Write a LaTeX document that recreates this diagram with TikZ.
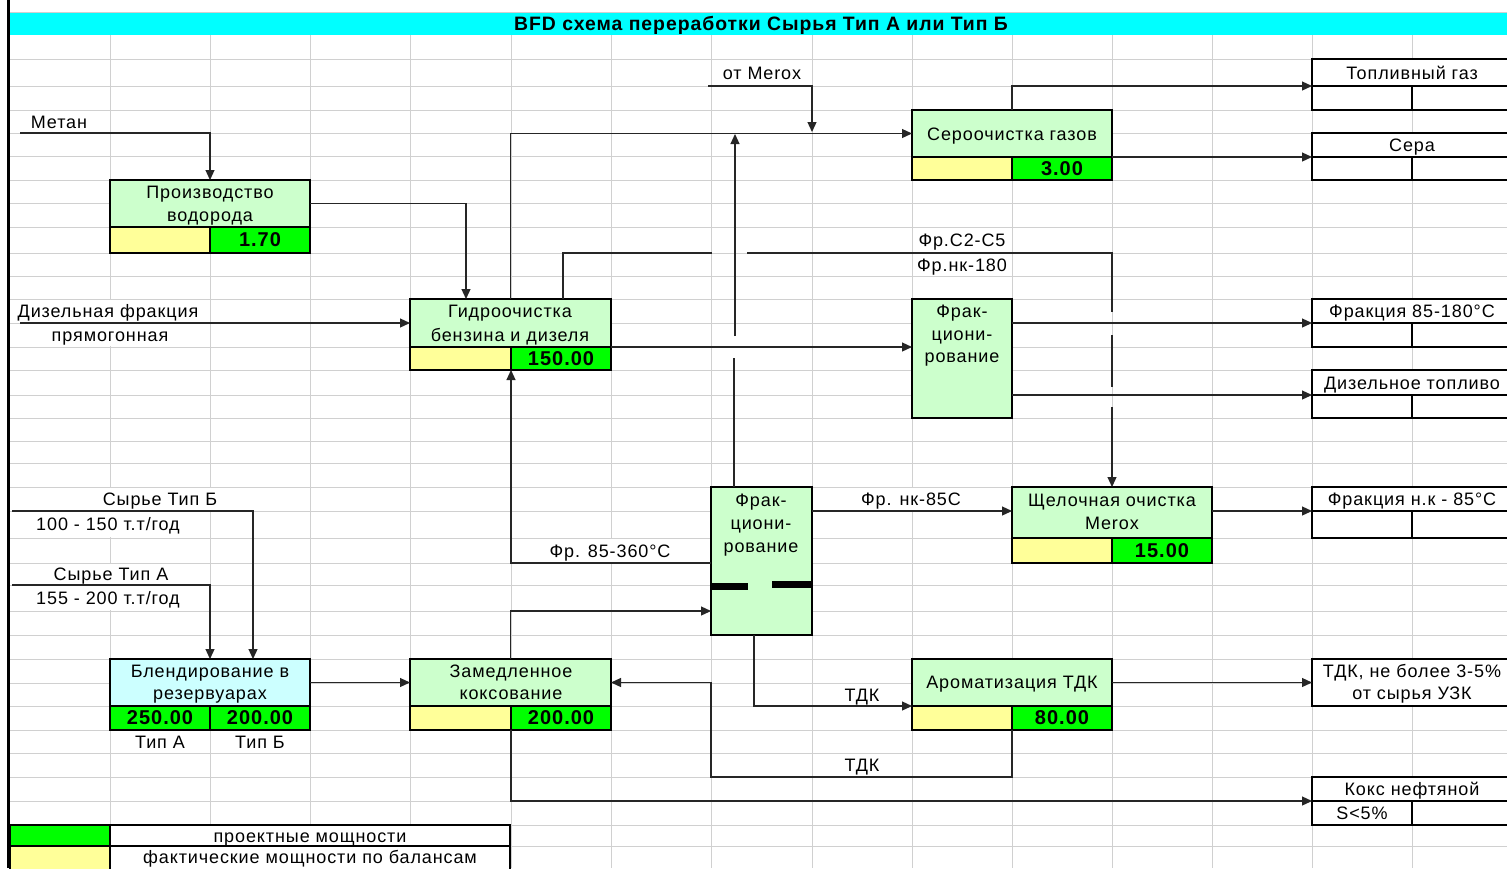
\documentclass[tikz,border=0pt]{standalone}
\usepackage{fontspec}
\setmainfont{Liberation Sans}[LetterSpace=5]
\usetikzlibrary{arrows.meta,calc}
\definecolor{lgreen}{HTML}{CCFFCC}
\definecolor{vgreen}{HTML}{00FF00}
\definecolor{lyel}{HTML}{FFFF99}
\definecolor{lcyan}{HTML}{CCFFFF}
\definecolor{ttl}{HTML}{00FFFF}
\definecolor{gridc}{HTML}{D0D0D0}
\newcommand\lblf{\fontsize{18}{22.5}\selectfont}
\newcommand\valf{\fontsize{20}{22.5}\selectfont\bfseries}
\newcommand\ttlf{\fontsize{19.4}{22.5}\selectfont\bfseries}
\begin{document}
\begin{tikzpicture}[x=1pt,y=-1pt,
  sz/.style 2 args={minimum width=#1pt, minimum height=#2pt},
  cell/.style={draw=black, line width=2.6pt, anchor=north west, inner sep=0pt, outer sep=0pt, align=center, font=\lblf},
  unit/.style={cell, fill=lgreen},
  ylw/.style={cell, fill=lyel},
  grn/.style={cell, fill=vgreen, font=\valf},
  outb/.style={cell, fill=white},
  leg/.style={draw=black, line width=1.2pt, anchor=north west, inner sep=0pt, outer sep=0pt},
  txt/.style={inner sep=0pt, anchor=base, font=\lblf},
  arr/.style={line width=1.2pt, draw=black!85, -{Triangle[length=10pt,width=9pt]}},
  ln/.style={line width=1.2pt, draw=black!85},
]
\useasboundingbox (0,0) rectangle (1507,868);
\fill[white] (0,0) rectangle (1507,868);
% grid
\foreach \x in {110,210,310,410,511,611,711,812,912,1012,1112,1212,1312,1412}
  \draw[gridc, line width=1pt] (\x,35) -- (\x,868);
\foreach \y in {59,86,110,133,156,180,203,227,253,276,299,323,347,370,395,418,441,463,487,511,538,563,585,611,635,659,683,706,730,753,777,801,825,846}
  \draw[gridc, line width=1pt] (10,\y) -- (1507,\y);
% text overflow hides grid segments
\fill[white] (108.5,299.6) rectangle (111.5,322.4);
\fill[white] (108.5,323.6) rectangle (111.5,346.4);
\fill[white] (108.5,487.6) rectangle (111.5,510.4);
\fill[white] (108.5,511.6) rectangle (111.5,537.4);
\fill[white] (208.5,487.6) rectangle (211.5,510.4);
\fill[white] (108.5,563.6) rectangle (111.5,584.4);
\fill[white] (108.5,585.6) rectangle (111.5,610.4);
\fill[white] (609.5,538.6) rectangle (612.5,562.4);
\fill[white] (910.5,487.6) rectangle (913.5,510.4);
% title bar
\fill[ttl] (10,12) rectangle (1507,35);
\draw[gridc, line width=1pt] (10,12) -- (1507,12);
\node[txt, font=\ttlf] (title) at (761,30.5) {BFD схема переработки Сырья Тип А или Тип Б};
% left border
\draw[line width=3pt] (8,0) -- (8,868);

% process units
\node[unit, sz={200}{47}] (h2) at (110,180) {};
\node[ylw, sz={100}{26}] (h2y) at (110,227) {};
\node[grn, sz={100}{26}] (h2v) at (210,227) {1.70};

\node[unit, sz={201}{48}] (hyd) at (410,299) {};
\node[ylw, sz={101}{23}] (hydy) at (410,347) {};
\node[grn, sz={100}{23}] (hydv) at (511,347) {150.00};

\node[unit, sz={200}{47}] (sul) at (912,110) {};
\node[ylw, sz={100}{23}] (suly) at (912,157) {};
\node[grn, sz={100}{23}] (sulv) at (1012,157) {3.00};

\node[unit, sz={100}{119}] (fr1) at (912,299) {};
\node[unit, sz={101}{148}] (fr2) at (711,487) {};
\fill (711,583) rectangle (748,590);
\fill (772,581) rectangle (812,588);

\node[unit, sz={200}{51}] (mer) at (1012,487) {};
\node[ylw, sz={100}{25}] (mery) at (1012,538) {};
\node[grn, sz={100}{25}] (merv) at (1112,538) {15.00};

\node[cell, fill=lcyan, sz={200}{47}] (bl) at (110,659) {};
\node[grn, sz={100}{24}] (blA) at (110,706) {250.00};
\node[grn, sz={100}{24}] (blB) at (210,706) {200.00};

\node[unit, sz={201}{47}] (cok) at (410,659) {};
\node[ylw, sz={101}{24}] (coky) at (410,706) {};
\node[grn, sz={100}{24}] (cokv) at (511,706) {200.00};

\node[unit, sz={200}{47}] (aro) at (912,659) {};
\node[ylw, sz={100}{24}] (aroy) at (912,706) {};
\node[grn, sz={100}{24}] (arov) at (1012,706) {80.00};

% output boxes
\node[outb, sz={200}{27}] (og1) at (1312,59) {};
\node[outb, sz={100}{24}] (og1a) at (1312,86) {};
\node[outb, sz={100}{24}] (og1b) at (1412,86) {};
\node[outb, sz={200}{24}] (og2) at (1312,133) {};
\node[outb, sz={100}{23}] (og2a) at (1312,157) {};
\node[outb, sz={100}{23}] (og2b) at (1412,157) {};
\node[outb, sz={200}{24}] (og3) at (1312,299) {};
\node[outb, sz={100}{24}] (og3a) at (1312,323) {};
\node[outb, sz={100}{24}] (og3b) at (1412,323) {};
\node[outb, sz={200}{25}] (og4) at (1312,370) {};
\node[outb, sz={100}{23}] (og4a) at (1312,395) {};
\node[outb, sz={100}{23}] (og4b) at (1412,395) {};
\node[outb, sz={200}{24}] (og5) at (1312,487) {};
\node[outb, sz={100}{27}] (og5a) at (1312,511) {};
\node[outb, sz={100}{27}] (og5b) at (1412,511) {};
\node[outb, sz={200}{47}] (og6) at (1312,659) {};
\node[outb, sz={200}{24}] (og7) at (1312,777) {};
\node[outb, sz={100}{24}] (og7a) at (1312,801) {};
\node[outb, sz={100}{24}] (og7b) at (1412,801) {};

% legend
\node[leg, fill=vgreen, sz={100}{21}] (lg1) at (10,825) {};
\node[leg, fill=white, sz={400}{21}] (lg1t) at (110,825) {};
\node[leg, fill=lyel, sz={100}{25}] (lg2) at (10,846) {};
\node[leg, fill=white, sz={400}{25}] (lg2t) at (110,846) {};

% free ends
\coordinate (metan) at (20,133);
\coordinate (dsl) at (20,323);
\coordinate (mrx) at (708,86);
\coordinate (mrxend) at (812,132);
\coordinate (jn) at (735,134);
\coordinate (rawB) at (12,511);
\coordinate (rawA) at (12,585);

% connectors
\draw[arr] (metan) -| (h2.north);
\draw[arr] (h2.east) -| ($(hyd.north west)+(56,0)$);
\draw[arr] (dsl) -- (dsl -| hyd.west);
\draw[arr] (hyd.north) |- (sul.west);
\draw[arr] (mrx) -| (mrxend);
\draw[ln] ($(fr2.north west)+(23,0)$) -- ++(0,-129);
\draw[arr] ($(fr2.north west)+(24,-151)$) -- (jn);
\draw[ln] ($(hyd.north west)+(153,0)$) |- (712,253);
\draw[ln] (747,253) -| (1112,312);
\draw[ln] (1112,335) -- (1112,387);
\draw[arr] (1112,407) -- (mer.north);
\draw[arr] (hyd.south east) -- (hyd.south east -| fr1.west);
\draw[arr] (og3.south west -| fr1.east) -- (og3.south west);
\draw[arr] (og4.south west -| fr1.east) -- (og4.south west);
\draw[arr] (sul.north) |- (og1.south west);
\draw[arr] (sul.south east) -- (og2.south west);
\draw[arr] ($(fr2.north west)+(0,76)$) -| (hydv.south west);
\draw[arr] (og5.south west -| fr2.east) -- (og5.south west -| mer.west);
\draw[arr] (og5.south west -| mer.east) -- (og5.south west);
\draw[arr] (rawB) -| ($(bl.north west)+(143,0)$);
\draw[arr] (rawA) -| (bl.north);
\draw[arr] (bl.east) -- (cok.west);
\draw[arr] (cok.north) |- ($(fr2.north west)+(0,124)$);
\draw[arr] ($(fr2.south west)+(43,0)$) |- (aroy.north west);
\draw[arr] (arov.south west) -- ++(0,47) -| ($(cok.east)+(100,0)$) -- (cok.east);
\draw[arr] (aro.east) -- (og6.west);
\draw[arr] (cokv.south west) |- (og7.south west);

% texts
\node[txt] (tmrx) at (762,79) {от Merox};
\node[txt] (tme) at (59,128) {Метан};
\node[txt] (td1) at (108,317.5) {Дизельная фракция};
\node[txt] (td2) at (110,341.5) {прямогонная};
\node[txt] (tsb1) at (160,505.5) {Сырье Тип Б};
\node[txt] (tsb2) at (108,530.5) {100 - 150 т.т/год};
\node[txt] (tsa1) at (111,580.5) {Сырье Тип А};
\node[txt] (tsa2) at (108,604.5) {155 - 200 т.т/год};
\node[txt] (tta) at (160,748) {Тип А};
\node[txt] (ttb) at (260,748) {Тип Б};
\node[txt] (tc25) at (962,246.5) {Фр.С2-С5};
\node[txt] (tc180) at (962,271) {Фр.нк-180};
\node[txt] (tf360) at (610,557) {Фр. 85-360°C};
\node[txt] (tfnk) at (911,505.5) {Фр. нк-85С};
\node[txt] (ttdk1) at (862,701) {ТДК};
\node[txt] (ttdk2) at (862,771) {ТДК};
\node[txt] (th2a) at (210,198) {Производство};
\node[txt] (th2b) at (210,221.5) {водорода};
\node[txt] (thya) at (510,317.5) {Гидроочистка};
\node[txt] (thyb) at (510,341.5) {бензина и дизеля};
\node[txt] (tsul) at (1012,140) {Сероочистка газов};
\node[txt] (tfr1a) at (962,317) {Фрак-};
\node[txt] (tfr1b) at (962,340) {циони-};
\node[txt] (tfr1c) at (962,362) {рование};
\node[txt] (tfr2a) at (761,506) {Фрак-};
\node[txt] (tfr2b) at (761,529) {циони-};
\node[txt] (tfr2c) at (761,552) {рование};
\node[txt] (tmera) at (1112,506) {Щелочная очистка};
\node[txt] (tmerb) at (1112,529) {Merox};
\node[txt] (tbla) at (210,677) {Блендирование в};
\node[txt] (tblb) at (210,699) {резервуарах};
\node[txt] (tcoka) at (511,677) {Замедленное};
\node[txt] (tcokb) at (511,699) {коксование};
\node[txt] (taro) at (1012,688.5) {Ароматизация ТДК};
\node[txt] (to1) at (1412,79) {Топливный газ};
\node[txt] (to2) at (1412,151) {Сера};
\node[txt] (to3) at (1412,317.5) {Фракция 85-180°C};
\node[txt] (to4) at (1412,389) {Дизельное топливо};
\node[txt] (to5) at (1412,505.5) {Фракция н.к - 85°C};
\node[txt] (to6a) at (1412,677) {ТДК, не более 3-5\%};
\node[txt] (to6b) at (1412,699) {от сырья УЗК};
\node[txt] (to7) at (1412,795.5) {Кокс нефтяной};
\node[txt] (to7s) at (1362,819.5) {S<5\%};
\node[txt] (tlg1) at (310,842) {проектные мощности};
\node[txt] (tlg2) at (310,863.5) {фактические мощности по балансам};
\end{tikzpicture}
\end{document}
